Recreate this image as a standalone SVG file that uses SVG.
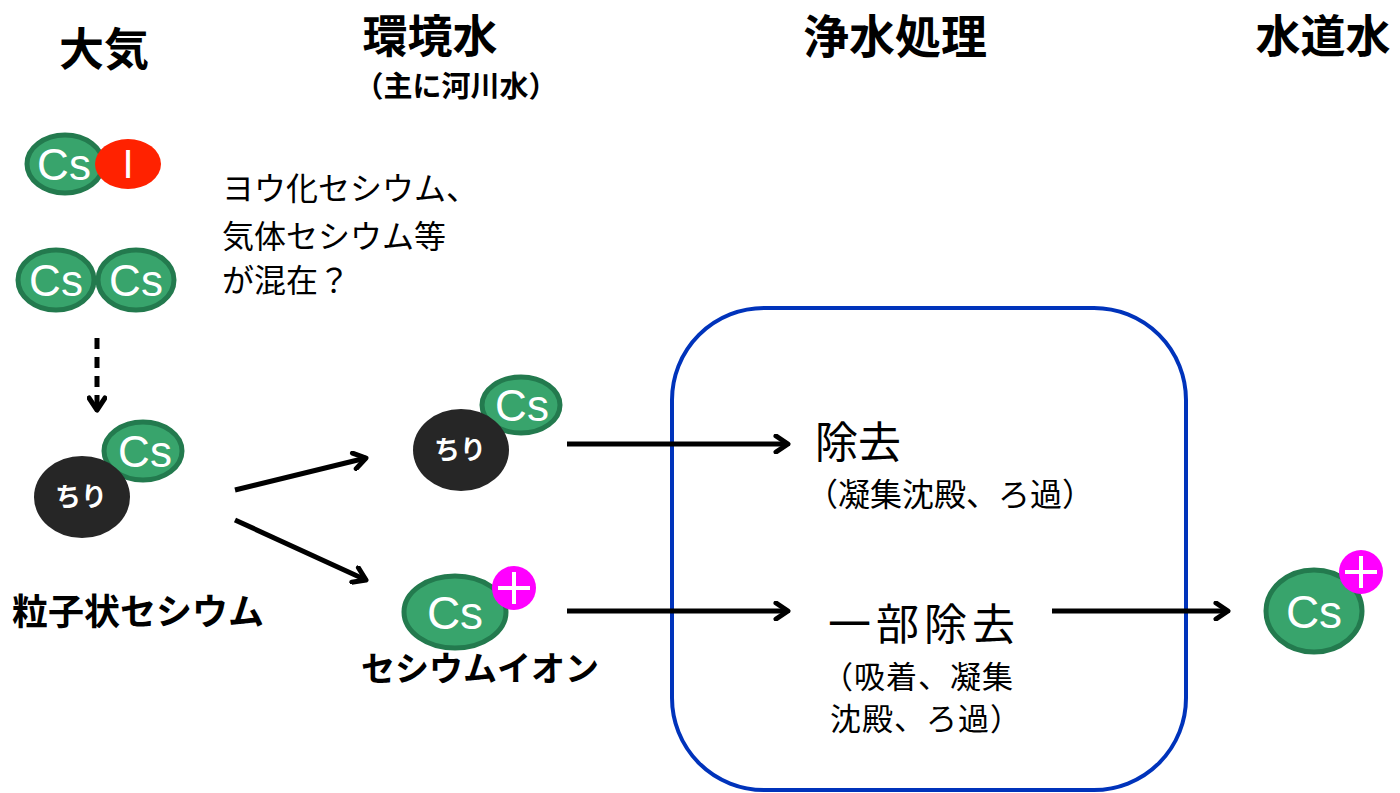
<svg xmlns="http://www.w3.org/2000/svg" width="1400" height="793" viewBox="0 0 1400 793">
<style>
.cs{fill:#38a46c;stroke:#237a4e;stroke-width:5}
.dust{fill:#262626}
.lbl{font-family:"Liberation Sans","Noto Sans CJK JP",sans-serif;fill:#fff;text-anchor:middle}
.jp{font-family:"Noto Sans CJK JP",sans-serif;fill:#000}
.h{font-weight:bold;text-anchor:middle}
.plus{fill:#ff00ff}
.pl{stroke:#fff;stroke-width:4}
.conn{stroke:#000;stroke-width:5;fill:none}
</style>
<defs>
<marker id="ah" viewBox="0 0 20 20" refX="15" refY="10" markerWidth="20" markerHeight="20" markerUnits="userSpaceOnUse" orient="auto">
<path d="M3,2 L15,10 L3,18" fill="none" stroke="#000" stroke-width="5" stroke-linecap="round" stroke-linejoin="round"/>
</marker>
</defs>
<rect width="1400" height="793" fill="#fff"/>

<g id="headers">
<text class="jp h" x="104" y="66" font-size="45">大気</text>
<text class="jp h" x="430" y="53" font-size="45">環境水</text>
<text class="jp h" x="456" y="97" font-size="29">（主に河川水）</text>
<text class="jp h" x="895" y="53" font-size="46">浄水処理</text>
<text class="jp h" x="1323" y="53" font-size="45">水道水</text>
</g>

<g id="csi">
<ellipse class="cs" cx="65" cy="164" rx="38" ry="29"/>
<text class="lbl" x="64" y="180" font-size="44">Cs</text>
<ellipse cx="128" cy="164" rx="33" ry="25" fill="#ff2200"/>
<text class="lbl" x="128" y="178" font-size="40">I</text>
</g>

<g id="cs2">
<ellipse class="cs" cx="56" cy="280" rx="38" ry="30"/>
<text class="lbl" x="56" y="296" font-size="44">Cs</text>
<ellipse class="cs" cx="136" cy="280" rx="38" ry="30"/>
<text class="lbl" x="136" y="296" font-size="44">Cs</text>
</g>

<g id="note">
<text class="jp" x="222" y="200" font-size="32">ヨウ化セシウム、</text>
<text class="jp" x="222" y="248" font-size="32">気体セシウム等</text>
<text class="jp" x="222" y="292" font-size="32">が混在？</text>
</g>

<g id="particle">
<ellipse class="cs" cx="143" cy="451" rx="39" ry="29"/>
<text class="lbl" x="145" y="467" font-size="44">Cs</text>
<ellipse class="dust" cx="82" cy="497" rx="48" ry="41"/>
<text class="lbl" x="81" y="506" font-size="26" font-weight="bold" font-family="Noto Sans CJK JP,sans-serif">ちり</text>
<text class="jp" x="12" y="625" font-size="36" font-weight="bold">粒子状セシウム</text>
</g>

<g id="river-particle">
<ellipse class="cs" cx="521" cy="405" rx="39" ry="28"/>
<text class="lbl" x="522" y="421" font-size="44">Cs</text>
<ellipse class="dust" cx="461" cy="450" rx="48" ry="41"/>
<text class="lbl" x="460" y="459" font-size="26" font-weight="bold" font-family="Noto Sans CJK JP,sans-serif">ちり</text>
</g>

<g id="river-ion">
<ellipse class="cs" cx="455" cy="612" rx="51" ry="36"/>
<text class="lbl" x="455" y="629" font-size="46">Cs</text>
<circle class="plus" cx="514" cy="588" r="22"/>
<path class="pl" d="M514,572 V604 M498,588 H530"/>
<text class="jp h" x="480" y="681" font-size="34">セシウムイオン</text>
</g>

<g id="treatment">
<rect x="672" y="308" width="514" height="482" rx="92" ry="92" fill="none" stroke="#0033bb" stroke-width="4"/>
<text class="jp" x="815" y="458" font-size="43">除去</text>
<text class="jp" x="806" y="506" font-size="32">（凝集沈殿、ろ過）</text>
<text class="jp" x="828" y="640" font-size="43" letter-spacing="5">一部除去</text>
<text class="jp" x="822" y="688" font-size="31" letter-spacing="1">（吸着、凝集</text>
<text class="jp" x="830" y="730" font-size="31" letter-spacing="1">沈殿、ろ過）</text>
</g>

<g id="tap">
<ellipse class="cs" cx="1314" cy="611" rx="48" ry="41"/>
<text class="lbl" x="1314" y="628" font-size="46">Cs</text>
<circle class="plus" cx="1361" cy="572" r="22"/>
<path class="pl" d="M1361,556 V588 M1345,572 H1377"/>
</g>

<g id="connectors">
<line class="conn" x1="97" y1="338" x2="97" y2="410" stroke-dasharray="11,8" stroke-width="4" marker-end="url(#ah)"/>
<line class="conn" x1="235" y1="490" x2="366" y2="458" marker-end="url(#ah)"/>
<line class="conn" x1="235" y1="520" x2="366" y2="580" marker-end="url(#ah)"/>
<line class="conn" x1="567" y1="444" x2="788" y2="444" marker-end="url(#ah)"/>
<line class="conn" x1="567" y1="611" x2="788" y2="611" marker-end="url(#ah)"/>
<line class="conn" x1="1052" y1="611" x2="1228" y2="611" marker-end="url(#ah)"/>
</g>
</svg>
